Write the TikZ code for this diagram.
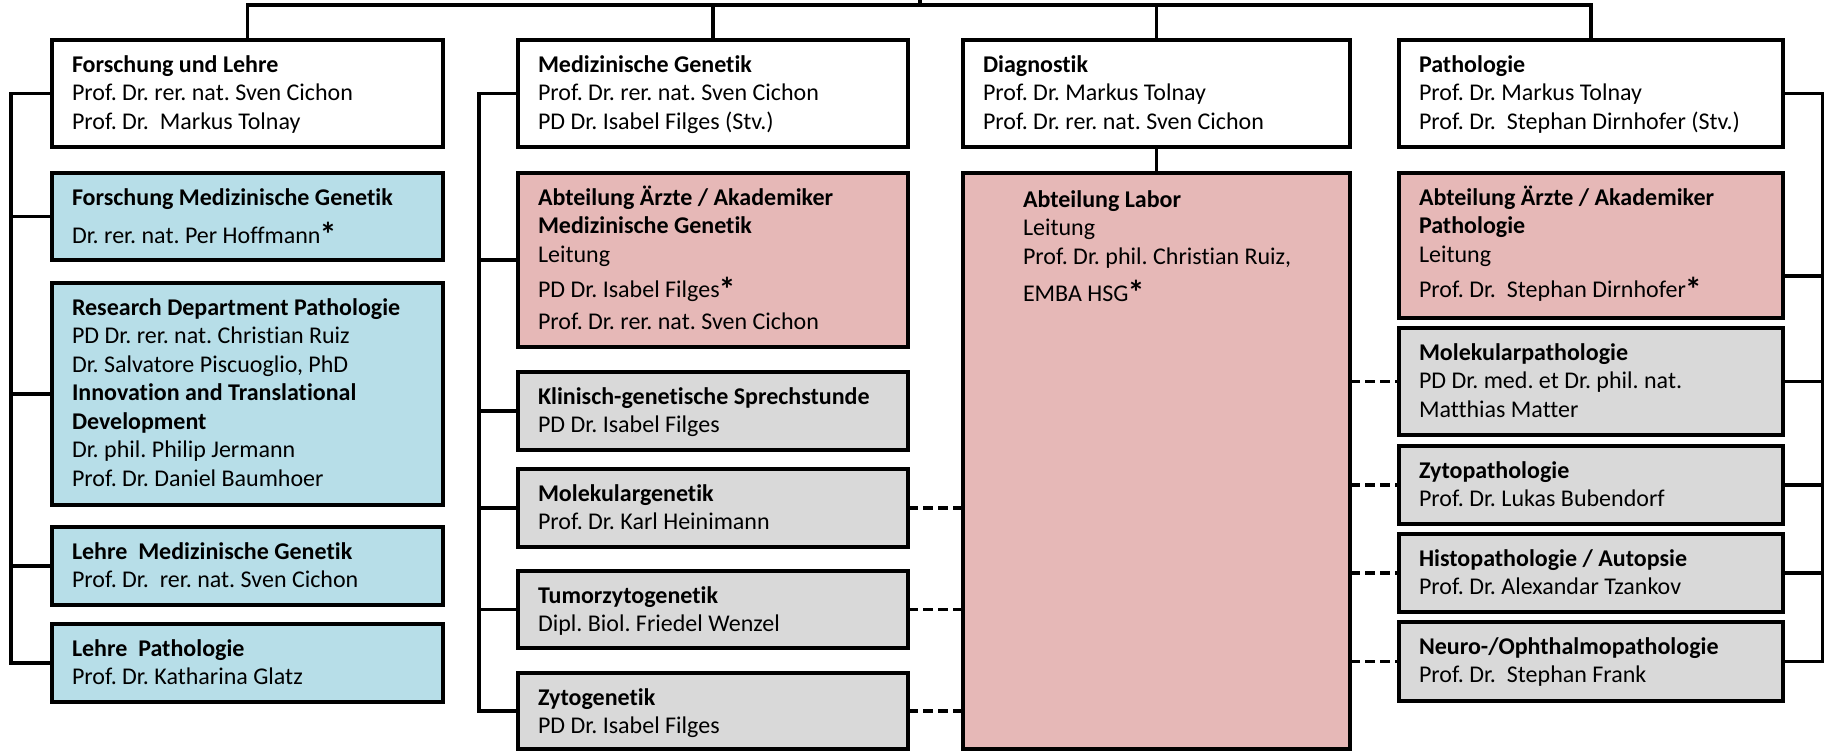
\documentclass[tikz,border=0pt]{standalone}
\usepackage{fontspec}
\setmainfont{Carlito}[Ligatures=NoCommon]
\usetikzlibrary{calc}
\definecolor{bl}{HTML}{B7DEE8}
\definecolor{rd}{HTML}{E6B8B7}
\definecolor{gr}{HTML}{D9D9D9}
\tikzset{
 ob/.style={draw=black, line width=1.65pt, rectangle, inner sep=0pt, outer sep=0pt},
 wbox/.style={ob, fill=white},
 bbox/.style={ob, fill=bl},
 rbox/.style={ob, fill=rd},
 gbox/.style={ob, fill=gr},
 txt/.style={anchor=north west, inner sep=0pt, outer sep=0pt, align=left, font=\fontsize{12}{14.25}\selectfont\frenchspacing},
 conn/.style={line width=1.9pt},
 dconn/.style={line width=1.8pt, dash pattern=on 5pt off 2.5pt},
}
\newcommand{\stern}{\kern-0.5pt\smash{\raisebox{-1.6pt}{\fontsize{17}{17}\selectfont\bfseries *}}}
% name, style, x1, y1, x2, y2, text
\newcommand{\mkbox}[7]{%
  \node[#2, minimum width={(#5-#3)*0.5pt}, minimum height={(#6-#4)*0.5pt}] (#1) at ({(#3+#5)/2},{(#4+#6)/2}) {};
  \node[txt] (#1t) at ([xshift=10pt,yshift=-6.2pt]#1.north west) {\strut #7};
}
\begin{document}
\begin{tikzpicture}[x=0.5pt,y=-0.5pt]
\fill[white] (0,0) rectangle (1825,752);
\useasboundingbox (0,0) rectangle (1825,752);

% left column
\mkbox{fl}{wbox}{52}{40}{443}{147}{\textbf{Forschung und Lehre}\\Prof. Dr. rer. nat. Sven Cichon\\Prof. Dr.\ \ Markus Tolnay}
\mkbox{fmg}{bbox}{52}{173}{443}{260}{\textbf{Forschung Medizinische Genetik}\\[4.75pt]Dr. rer. nat. Per Hoffmann\stern}
\mkbox{rdp}{bbox}{52}{283}{443}{505}{\textbf{Research Department Pathologie}\\PD Dr. rer. nat. Christian Ruiz\\Dr. Salvatore Piscuoglio, PhD\\\textbf{Innovation and Translational}\\\textbf{Development}\\Dr. phil. Philip Jermann\\Prof. Dr. Daniel Baumhoer}
\mkbox{lmg}{bbox}{52}{527}{443}{605}{\textbf{Lehre\ \ Medizinische Genetik}\\Prof. Dr.\ \ rer. nat. Sven Cichon}
\mkbox{lp}{bbox}{52}{624}{443}{702}{\textbf{Lehre\ \ Pathologie}\\Prof. Dr. Katharina Glatz}

% MG column
\mkbox{mg}{wbox}{518}{40}{908}{147}{\textbf{Medizinische Genetik}\\Prof. Dr. rer. nat. Sven Cichon\\PD Dr. Isabel Filges (Stv.)}
\mkbox{amg}{rbox}{518}{173}{908}{347}{\textbf{Abteilung Ärzte / Akademiker}\\\textbf{Medizinische Genetik}\\Leitung\\[3.5pt]PD Dr. Isabel Filges\stern\\[1.75pt]Prof. Dr. rer. nat. Sven Cichon}
\mkbox{kgs}{gbox}{518}{372}{908}{450}{\textbf{Klinisch-genetische Sprechstunde}\\PD Dr. Isabel Filges}
\mkbox{molg}{gbox}{518}{469}{908}{547}{\textbf{Molekulargenetik}\\Prof. Dr. Karl Heinimann}
\mkbox{tzg}{gbox}{518}{571}{908}{648}{\textbf{Tumorzytogenetik}\\Dipl. Biol. Friedel Wenzel}
\mkbox{zg}{gbox}{518}{673}{908}{749}{\textbf{Zytogenetik}\\PD Dr. Isabel Filges}

% Diagnostik column
\mkbox{dg}{wbox}{963}{40}{1350}{147}{\textbf{Diagnostik}\\Prof. Dr. Markus Tolnay\\Prof. Dr. rer. nat. Sven Cichon}
\node[rbox, minimum width={(1350-963)*0.5pt}, minimum height={(749-173)*0.5pt}] (lab) at ({(963+1350)/2},{(173+749)/2}) {};
\node[txt] (labt) at ([xshift=30pt,yshift=-7.2pt]lab.north west) {\strut\textbf{Abteilung Labor}\\Leitung\\Prof. Dr. phil. Christian Ruiz,\\[4.25pt]EMBA HSG\stern};

% Pathologie column
\mkbox{pa}{wbox}{1399}{40}{1783}{147}{\textbf{Pathologie}\\Prof. Dr. Markus Tolnay\\Prof. Dr.\ \ Stephan Dirnhofer (Stv.)}
\mkbox{apa}{rbox}{1399}{173}{1783}{318}{\textbf{Abteilung Ärzte / Akademiker}\\\textbf{Pathologie}\\Leitung\\[3.5pt]Prof. Dr.\ \ Stephan Dirnhofer\stern}
\mkbox{mpa}{gbox}{1399}{328}{1783}{435}{\textbf{Molekularpathologie}\\PD Dr. med. et Dr. phil. nat.\\Matthias Matter}
\mkbox{zpa}{gbox}{1399}{446}{1783}{524}{\textbf{Zytopathologie}\\Prof. Dr. Lukas Bubendorf}
\mkbox{hpa}{gbox}{1399}{534}{1783}{612}{\textbf{Histopathologie / Autopsie}\\Prof. Dr. Alexandar Tzankov}
\mkbox{npa}{gbox}{1399}{622}{1783}{701}{\textbf{Neuro-/Ophthalmopathologie}\\Prof. Dr.\ \ Stephan Frank}

% top bar
\draw[conn] (fl.north) -- ++(0,-35) coordinate (tl) -| (pa.north);
\draw[conn] (mg.north) -- (mg.north |- tl);
\draw[conn] (dg.north) -- (dg.north |- tl);
\coordinate (stub) at (920,0);
\draw[conn] (stub) -- (stub |- tl);
\draw[conn] (dg.south) -- (lab.north);

% left bracket
\coordinate (lx) at (11,0);
\draw[conn] (fl.west) -- (fl.west -| lx) -- (lp.west -| lx) -- (lp.west);
\foreach \n in {fmg,rdp,lmg} \draw[conn] (\n.west) -- (\n.west -| lx);

% MG bracket
\coordinate (mx) at (479,0);
\draw[conn] (mg.west) -- (mg.west -| mx) -- (zg.west -| mx) -- (zg.west);
\foreach \n in {amg,kgs,molg,tzg} \draw[conn] (\n.west) -- (\n.west -| mx);

% Pathologie bracket
\coordinate (px) at (1822.5,0);
\draw[conn] (pa.east) -- (pa.east -| px) -- (npa.east -| px) -- (npa.east);
\draw[conn] ([yshift=21pt]apa.south east) -- ([yshift=21pt]apa.south east -| px);
\foreach \n in {mpa,zpa,hpa} \draw[conn] (\n.east) -- (\n.east -| px);

% dashed links
\foreach \n in {molg,tzg,zg} \draw[dconn] (\n.east) -- (\n.east -| lab.west);
\foreach \n in {mpa,zpa,hpa,npa} \draw[dconn] (\n.west -| lab.east) -- (\n.west);
\end{tikzpicture}
\end{document}
